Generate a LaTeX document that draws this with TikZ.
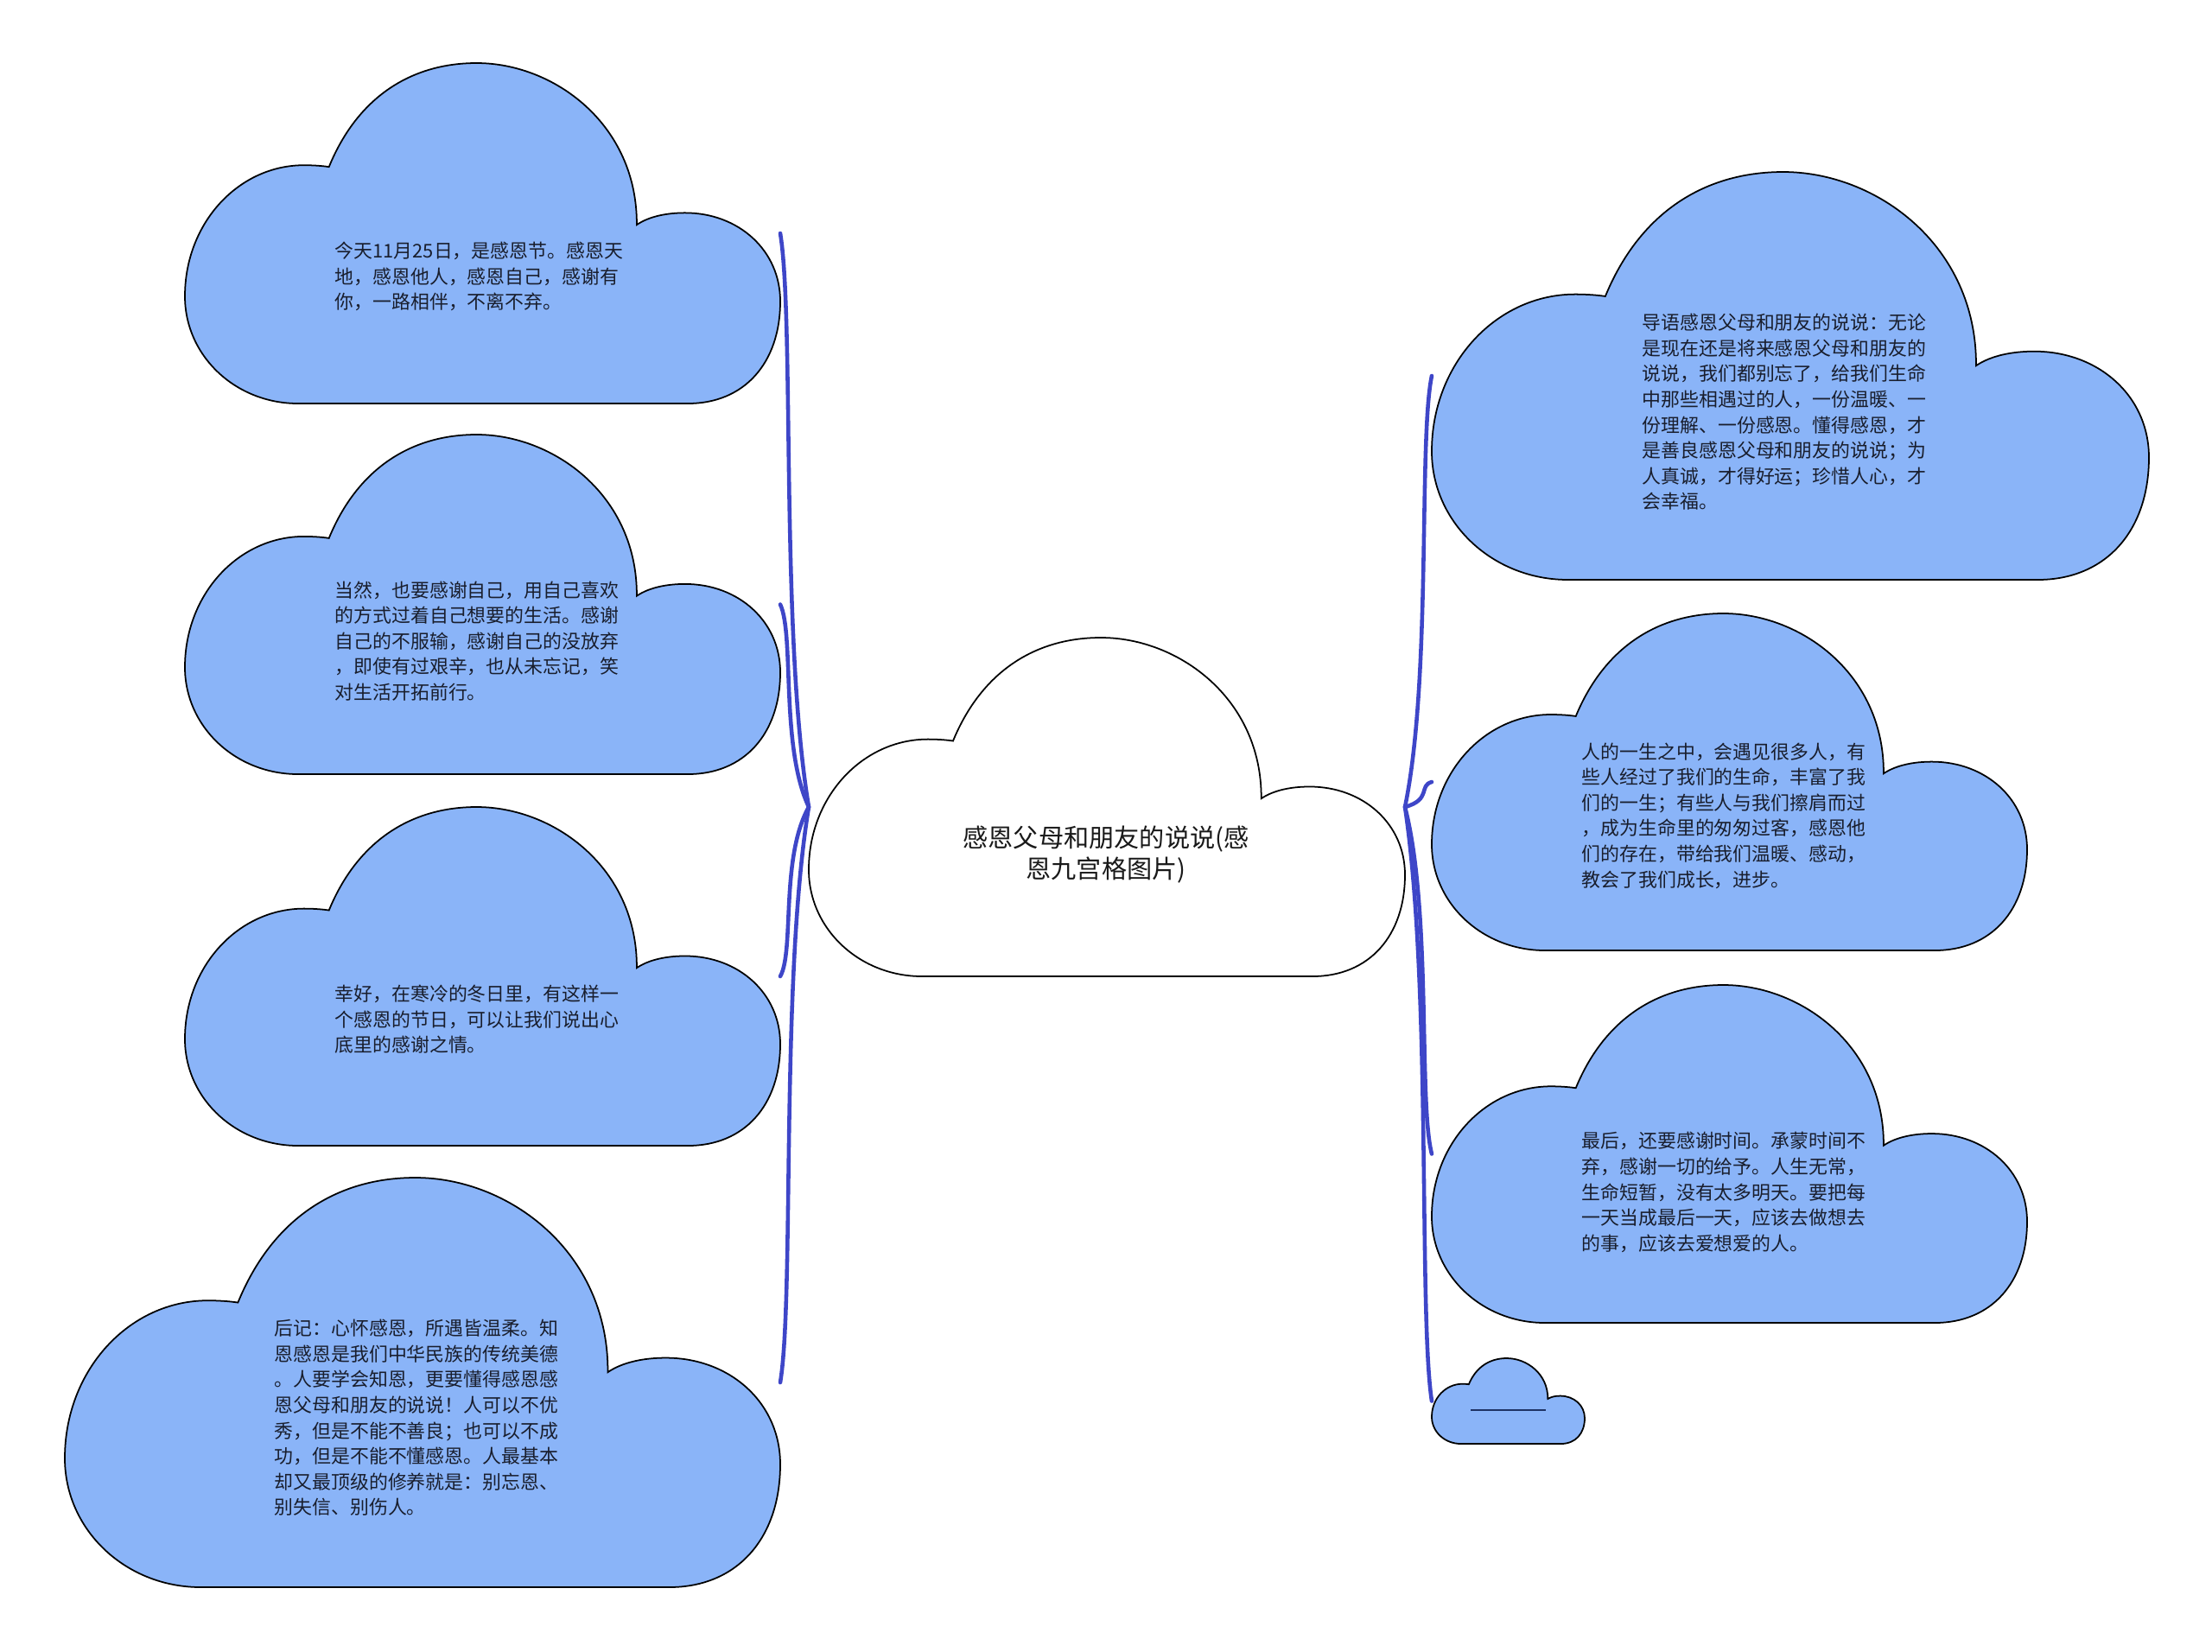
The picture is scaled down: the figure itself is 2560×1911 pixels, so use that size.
\documentclass[tikz,border=0pt]{standalone}
\usepackage{fontspec}
\setmainfont{Noto Sans CJK SC}
\usetikzlibrary{calc}
\definecolor{cloudfill}{RGB}{138,180,248}
\definecolor{connblue}{RGB}{62,70,200}
\definecolor{txtcol}{RGB}{25,30,45}
\definecolor{dashcol}{RGB}{30,50,100}
\tikzset{
  cloudline/.style={draw=black, line width=0.5pt},
  connline/.style={draw=connblue, line width=1.3pt, line cap=round},
  childtext/.style={inner sep=0pt, anchor=west, align=left, text=txtcol,
    font=\fontsize{6.23}{8.42}\selectfont},
  roottext/.style={inner sep=0pt, anchor=center, align=center, text=black!90,
    font=\fontsize{8.3}{10.45}\selectfont},
  boxnode/.style={inner sep=0pt, outer sep=0pt, anchor=north west, draw=none}
}
% cloud: name, x0, y0, w, h, fill colour
\newcommand\mycloud[6]{%
  \node[boxnode, minimum width=#4*0.1mm, minimum height=#5*0.1mm] (#1) at (#2,#3) {};
  \begin{scope}[shift={(#2,#3)}, xscale=#4, yscale=#5]
    \path[cloudline, fill=#6]
      (0.19,1) .. controls (0.085,1) and (0,0.86) .. (0,0.685)
      .. controls (0,0.47) and (0.09,0.30) .. (0.20,0.30)
      .. controls (0.22,0.30) and (0.235,0.303) .. (0.242,0.305)
      .. controls (0.29,0.10) and (0.38,0) .. (0.49,0)
      .. controls (0.62,0) and (0.76,0.18) .. (0.759,0.475)
      .. controls (0.78,0.45) and (0.81,0.44) .. (0.84,0.44)
      .. controls (0.93,0.44) and (1,0.55) .. (1,0.70)
      .. controls (1,0.88) and (0.94,1) .. (0.845,1)
      -- cycle;
  \end{scope}}
\newcommand\myconn[2]{%
  \path ($(#1)!0.3!(#2)$) coordinate (qa)
        ($(#1)!0.5!(#2)$) coordinate (qb)
        ($(#2)!0.15!(#1)$) coordinate (qc);
  \draw[connline] (#1) .. controls (#2 |- qa) and (qb |- qc) .. (#2);}
\begin{document}
\begin{tikzpicture}[x=0.1mm, y=-0.1mm]
\useasboundingbox (0,0) rectangle (2560,1911);
\fill[white] (0,0) rectangle (2560,1911);

% clouds
\mycloud{root}{936}{738}{690}{392}{white}
\mycloud{l1}{214}{73}{689}{394}{cloudfill}
\mycloud{l2}{214}{503}{689}{393}{cloudfill}
\mycloud{l3}{214}{934}{689}{392}{cloudfill}
\mycloud{l4}{75}{1363}{828}{474}{cloudfill}
\mycloud{r1}{1657}{199}{830}{472}{cloudfill}
\mycloud{r2}{1657}{710}{689}{390}{cloudfill}
\mycloud{r3}{1657}{1140}{689}{391}{cloudfill}
\mycloud{r4}{1657}{1572}{177}{99}{cloudfill}

% connectors
\myconn{root.west}{l1.east}
\myconn{root.west}{l2.east}
\myconn{root.west}{l3.east}
\myconn{root.west}{l4.east}
\myconn{root.east}{r1.west}
\myconn{root.east}{r2.west}
\myconn{root.east}{r3.west}
\myconn{root.east}{r4.west}

% texts
\node[roottext] (troot) at (1280,989) {感恩父母和朋友的说说(感\\恩九宫格图片)};
\node[childtext] (tl1) at (387,320) {今天11月25日，是感恩节。感恩天\\地，感恩他人，感恩自己，感谢有\\你，一路相伴，不离不弃。};
\node[childtext] (tl2) at (387,742) {当然，也要感谢自己，用自己喜欢\\的方式过着自己想要的生活。感谢\\自己的不服输，感谢自己的没放弃\\，即使有过艰辛，也从未忘记，笑\\对生活开拓前行。};
\node[childtext] (tl3) at (387,1180) {幸好，在寒冷的冬日里，有这样一\\个感恩的节日，可以让我们说出心\\底里的感谢之情。};
\node[childtext] (tl4) at (317,1641) {后记：心怀感恩，所遇皆温柔。知\\恩感恩是我们中华民族的传统美德\\。人要学会知恩，更要懂得感恩感\\恩父母和朋友的说说！人可以不优\\秀，但是不能不善良；也可以不成\\功，但是不能不懂感恩。人最基本\\却又最顶级的修养就是：别忘恩、\\别失信、别伤人。};
\node[childtext] (tr1) at (1900,477) {导语感恩父母和朋友的说说：无论\\是现在还是将来感恩父母和朋友的\\说说，我们都别忘了，给我们生命\\中那些相遇过的人，一份温暖、一\\份理解、一份感恩。懂得感恩，才\\是善良感恩父母和朋友的说说；为\\人真诚，才得好运；珍惜人心，才\\会幸福。};
\node[childtext] (tr2) at (1830,944) {人的一生之中，会遇见很多人，有\\些人经过了我们的生命，丰富了我\\们的一生；有些人与我们擦肩而过\\，成为生命里的匆匆过客，感恩他\\们的存在，带给我们温暖、感动，\\教会了我们成长，进步。};
\node[childtext] (tr3) at (1830,1380) {最后，还要感谢时间。承蒙时间不\\弃，感谢一切的给予。人生无常，\\生命短暂，没有太多明天。要把每\\一天当成最后一天，应该去做想去\\的事，应该去爱想爱的人。};

% empty topic placeholder line in small cloud
\coordinate (r4a) at (1702,1632);
\coordinate (r4b) at (1789,1632);
\draw[dashcol, line width=0.5pt] (r4a) -- (r4b);
\end{tikzpicture}
\end{document}
